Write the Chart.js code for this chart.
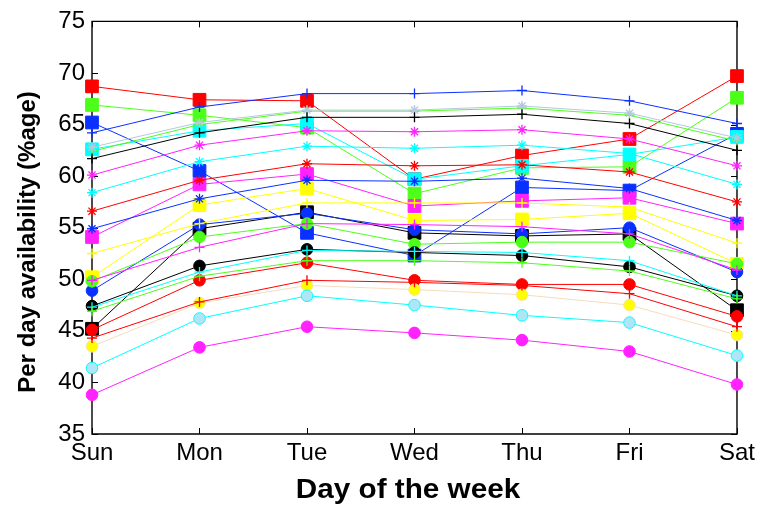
<!DOCTYPE html>
<html><head><meta charset="utf-8">
<script src="https://cdn.jsdelivr.net/npm/chart.js@4"></script>
<style>html,body{margin:0;padding:0;background:#fff;}</style>
</head><body>
<canvas id="c" width="760" height="507" style="width:760px;height:507px;display:block"></canvas>
<script>
// ---- data ----
const days = ['Sun','Mon','Tue','Wed','Thu','Fri','Sat'];
const yTickValues = [35, 40, 45, 50, 55, 60, 65, 70, 75];

const redSquare     = [68.7, 67.4, 67.3, 59.7, 62.0, 63.6, 69.7];
const greenSquare   = [66.9, 65.9, 64.7, 58.3, 60.8, 60.9, 67.6];
const blueSquare    = [65.2, 60.5, 54.5, 52.3, 58.9, 58.6, 64.1];
const cyanSquare    = [62.6, 64.4, 65.1, 59.7, 61.0, 62.1, 63.8];
const magentaSquare = [54.1, 59.2, 60.2, 57.1, 57.6, 57.9, 55.4];
const yellowSquare  = [50.2, 57.2, 58.8, 55.7, 55.8, 56.4, 51.5];
const blackSquare   = [45.2, 54.9, 56.5, 54.5, 54.2, 54.4, 47.0];

const blueCircle      = [48.9, 55.3, 56.4, 54.8, 54.4, 55.0, 50.7];
const greenCircle     = [49.8, 54.1, 55.4, 53.4, 53.6, 53.6, 51.5];
const blackCircle     = [47.4, 51.3, 52.9, 52.6, 52.3, 51.2, 48.4];
const redCircle       = [45.1, 49.9, 51.6, 49.9, 49.5, 49.5, 46.4];
const yellowCircle    = [43.5, 47.7, 49.4, 49.0, 48.5, 47.5, 44.6];
const lightBlueCircle = [41.4, 46.2, 48.4, 47.5, 46.5, 45.8, 42.6];
const magentaCircle   = [38.8, 43.4, 45.4, 44.8, 44.1, 43.0, 39.8];

const bluePlus      = [64.2, 66.7, 68.0, 68.0, 68.3, 67.3, 65.1];
const lightStar     = [62.8, 65.2, 66.4, 66.4, 66.8, 66.1, 63.7];
const greenPlusHigh = [62.4, 65.0, 66.3, 66.3, 66.6, 65.9, 63.4];
const blackPlus     = [61.7, 64.2, 65.7, 65.7, 66.0, 65.1, 62.5];
const magentaStar   = [60.1, 63.0, 64.4, 64.3, 64.5, 63.6, 61.0];
const cyanStar      = [58.4, 61.4, 62.9, 62.7, 63.0, 62.2, 59.2];
const redStar       = [56.6, 59.6, 61.2, 61.0, 61.1, 60.4, 57.5];
const blueStar      = [54.9, 57.8, 59.6, 59.5, 59.8, 58.8, 55.7];
const yellowPlus    = [52.5, 55.4, 57.4, 57.4, 57.4, 57.0, 53.5];
const magentaPlus   = [49.9, 53.1, 55.4, 55.3, 55.1, 54.4, 50.9];
const cyanPlus      = [47.3, 50.7, 52.8, 52.7, 52.6, 51.8, 48.4];
const greenPlusLow  = [46.9, 50.3, 51.8, 51.8, 51.6, 50.8, 48.1];
const redPlus       = [44.3, 47.8, 49.9, 49.7, 49.4, 48.6, 45.4];

// ---- styles ----
const RED='#ff0000', GREEN='#4cff19', BLUE='#0a30ff', CYAN='#00ffff', MAG='#ff22ff', YEL='#ffff00', BLK='#000000';
const series = [
  {d: redSquare, line: RED, fill: RED, shape: 'rect'},
  {d: greenSquare, line: GREEN, fill: GREEN, shape: 'rect'},
  {d: blueSquare, line: BLUE, fill: BLUE, shape: 'rect'},
  {d: cyanSquare, line: CYAN, fill: CYAN, shape: 'rect'},
  {d: magentaSquare, line: MAG, fill: MAG, shape: 'rect'},
  {d: yellowSquare, line: YEL, fill: YEL, shape: 'rect'},
  {d: blackSquare, line: BLK, fill: BLK, shape: 'rect'},
  {d: blueCircle, line: BLUE, fill: BLUE, shape: 'circle'},
  {d: greenCircle, line: GREEN, fill: GREEN, shape: 'circle'},
  {d: blackCircle, line: BLK, fill: BLK, shape: 'circle'},
  {d: redCircle, line: RED, fill: RED, shape: 'circle'},
  {d: yellowCircle, line: '#f7dcbc', fill: YEL, edge: '#f7e4a0', shape: 'circle'},
  {d: lightBlueCircle, line: CYAN, fill: '#aee6f8', edge: CYAN, shape: 'circle'},
  {d: magentaCircle, line: MAG, fill: MAG, shape: 'circle'},
  {d: bluePlus, line: BLUE, fill: BLUE, shape: 'cross'},
  {d: greenPlusHigh, line: GREEN, fill: GREEN, shape: 'cross'},
  {d: lightStar, line: '#b4c8e0', fill: '#b4c8e0', shape: 'star'},
  {d: blackPlus, line: BLK, fill: BLK, shape: 'cross'},
  {d: magentaStar, line: MAG, fill: MAG, shape: 'star'},
  {d: cyanStar, line: CYAN, fill: CYAN, shape: 'star'},
  {d: redStar, line: RED, fill: RED, shape: 'star'},
  {d: blueStar, line: BLUE, fill: BLUE, shape: 'star'},
  {d: yellowPlus, line: YEL, fill: YEL, shape: 'cross'},
  {d: magentaPlus, line: MAG, fill: MAG, shape: 'cross'},
  {d: cyanPlus, line: CYAN, fill: CYAN, shape: 'cross'},
  {d: greenPlusLow, line: GREEN, fill: GREEN, shape: 'cross'},
  {d: redPlus, line: RED, fill: RED, shape: 'cross'}
];
const radiusFor = {rect: 9, circle: 5.8, cross: 5, star: 5};

const FONT = "'Liberation Sans', Arial, Helvetica, sans-serif";

const framePlugin = {
  id: 'frame',
  beforeDatasetsDraw(chart) {
    const {ctx, chartArea: a, scales: {x, y}} = chart;
    ctx.save();
    ctx.strokeStyle = '#000';
    ctx.lineWidth = 1.4;
    ctx.beginPath();
    ctx.rect(a.left, a.top, a.right - a.left, a.bottom - a.top);
    ctx.stroke();
    ctx.lineWidth = 1;
    ctx.beginPath();
    const tl = 6;
    yTickValues.forEach(v => {
      const py = Math.round(y.getPixelForValue(v)) + 0.5;
      ctx.moveTo(a.left, py); ctx.lineTo(a.left + tl, py);
      ctx.moveTo(a.right, py); ctx.lineTo(a.right - tl, py);
    });
    days.forEach((d, i) => {
      const px = Math.round(x.getPixelForValue(i)) + 0.5;
      ctx.moveTo(px, a.bottom); ctx.lineTo(px, a.bottom - tl);
      ctx.moveTo(px, a.top); ctx.lineTo(px, a.top + tl);
    });
    ctx.stroke();
    ctx.restore();
  },
  afterDraw(chart) {
    const {ctx} = chart;
    ctx.save();
    ctx.fillStyle = '#000';
    ctx.textAlign = 'center';
    ctx.textBaseline = 'middle';
    ctx.save();
    ctx.translate(408, 490);
    ctx.scale(1.06, 1);
    ctx.font = 'bold 28px ' + FONT;
    ctx.fillText('Day of the week', 0, 0);
    ctx.restore();
    ctx.translate(28, 242);
    ctx.rotate(-Math.PI / 2);
    ctx.font = 'bold 24px ' + FONT;
    ctx.fillText('Per day availability (%age)', 0, 0);
    ctx.restore();
  }
};

// Chart.js draws dataset 0 on top, so reverse: plus/star on top, then circles, then squares
const drawOrder = series.slice().reverse();

new Chart(document.getElementById('c'), {
  type: 'line',
  data: {
    labels: days,
    datasets: drawOrder.map(s => ({
      data: s.d,
      borderColor: s.line,
      backgroundColor: s.fill,
      borderWidth: 1,
      pointStyle: s.shape,
      pointRadius: radiusFor[s.shape],
      pointHoverRadius: radiusFor[s.shape],
      pointBackgroundColor: s.fill,
      pointBorderColor: s.edge || s.fill,
      pointBorderWidth: (s.shape === 'cross' || s.shape === 'star') ? 1.3 : 1,
      tension: 0,
      fill: false,
      clip: false
    }))
  },
  options: {
    responsive: false,
    animation: false,
    devicePixelRatio: 1,
    layout: {padding: {top: 21, right: 22, left: 0, bottom: 0}},
    plugins: {legend: {display: false}, tooltip: {enabled: false}},
    scales: {
      x: {
        type: 'category',
        offset: false,
        grid: {display: false, drawTicks: false},
        border: {display: false},
        ticks: {color: '#000', font: {family: FONT, size: 24}, padding: 5, maxRotation: 0, autoSkip: false},
        afterFit(s) { s.height = 73; }
      },
      y: {
        min: 35, max: 75,
        grid: {display: false, drawTicks: false},
        border: {display: false},
        ticks: {stepSize: 5, color: '#000', font: {family: FONT, size: 24}, padding: 7},
        afterFit(s) { s.width = 92; }
      }
    }
  },
  plugins: [framePlugin]
});
</script>
</body></html>
